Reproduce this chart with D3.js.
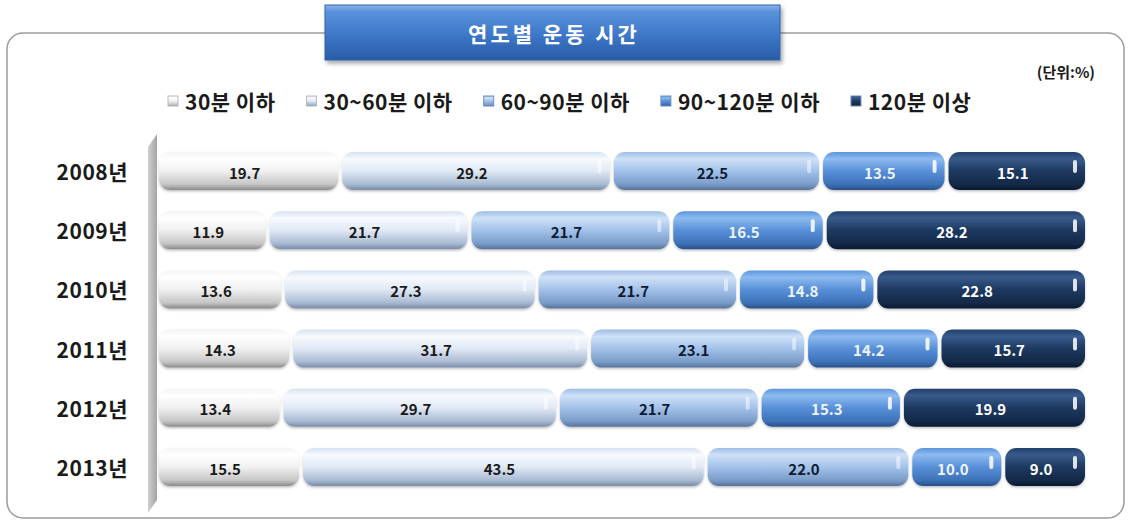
<!DOCTYPE html>
<html>
<head>
<meta charset="utf-8">
<script src="https://cdn.jsdelivr.net/npm/d3@7"></script>
<style>
  body { margin: 0; background: #fff; }
  text { font-family: "Noto Sans CJK KR", "Noto Sans", sans-serif; }
</style>
</head>
<body>
<div id="chart"></div>
<script>
// chart data
var years = ["2008년", "2009년", "2010년", "2011년", "2012년", "2013년"];
var seriesNames = ["30분 이하", "30~60분 이하", "60~90분 이하", "90~120분 이하", "120분 이상"];
var s30 = [19.7, 11.9, 13.6, 14.3, 13.4, 15.5];
var s60 = [29.2, 21.7, 27.3, 31.7, 29.7, 43.5];
var s90 = [22.5, 21.7, 21.7, 23.1, 21.7, 22.0];
var s120 = [13.5, 16.5, 14.8, 14.2, 15.3, 10.0];
var sOver = [15.1, 28.2, 22.8, 15.7, 19.9, 9.0];
var title = "연도별 운동 시간";
var unitLabel = "(단위:%)";

var allSeries = [s30, s60, s90, s120, sOver];

// colour sets per series
var colors = [
    { top: "#f4f4f4", hi: "#ffffff", mid: "#f0f0f0", low: "#c6c6c6", bot: "#8a8a8a", text: "#1a1a1a" },
    { top: "#d6e2f1", hi: "#f7fafe", mid: "#e0e9f5", low: "#a8bad2", bot: "#7a8ca6", text: "#1a1a1a" },
    { top: "#9dbde6", hi: "#cfe1f7", mid: "#a3c2ea", low: "#7a9cc8", bot: "#56729a", text: "#0f1c33" },
    { top: "#5b95dc", hi: "#8dbbf0", mid: "#5890d8", low: "#3d72b8", bot: "#2a5088", text: "#eef4fc" },
    { top: "#22406a", hi: "#385b8b", mid: "#1d3960", low: "#142948", bot: "#0b1a32", text: "#ffffff" }
];

var W = 1131, H = 524;
var svg = d3.select("#chart").append("svg")
    .attr("width", W)
    .attr("height", H);

var defs = svg.append("defs");

// vertical gradients for the glossy bars
colors.forEach(function(c, i) {
    var g = defs.append("linearGradient")
        .attr("id", "grad" + i)
        .attr("x1", 0).attr("y1", 0).attr("x2", 0).attr("y2", 1);
    g.append("stop").attr("offset", "0%").attr("stop-color", c.top);
    g.append("stop").attr("offset", "18%").attr("stop-color", c.hi);
    g.append("stop").attr("offset", "50%").attr("stop-color", c.mid);
    g.append("stop").attr("offset", "85%").attr("stop-color", c.low);
    g.append("stop").attr("offset", "100%").attr("stop-color", c.bot);
});

// title box gradient
var tg = defs.append("linearGradient").attr("id", "titleGrad")
    .attr("x1", 0).attr("y1", 0).attr("x2", 0).attr("y2", 1);
tg.append("stop").attr("offset", "0%").attr("stop-color", "#8cb6ea");
tg.append("stop").attr("offset", "12%").attr("stop-color", "#5a92db");
tg.append("stop").attr("offset", "60%").attr("stop-color", "#3a74c4");
tg.append("stop").attr("offset", "100%").attr("stop-color", "#2a5ca6");

// wall gradient
var wg = defs.append("linearGradient").attr("id", "wallGrad")
    .attr("x1", 0).attr("y1", 0).attr("x2", 1).attr("y2", 0);
wg.append("stop").attr("offset", "0%").attr("stop-color", "#d0d0d0");
wg.append("stop").attr("offset", "100%").attr("stop-color", "#a4a4a4");

var shadow = defs.append("filter").attr("id", "shadow")
    .attr("x", "-5%").attr("y", "-20%").attr("width", "115%").attr("height", "160%");
shadow.append("feDropShadow")
    .attr("dx", 2).attr("dy", 3).attr("stdDeviation", 2)
    .attr("flood-color", "#000").attr("flood-opacity", 0.35);

var barShadow = defs.append("filter").attr("id", "barShadow")
    .attr("x", "-5%").attr("y", "-20%").attr("width", "110%").attr("height", "150%");
barShadow.append("feDropShadow")
    .attr("dx", 0).attr("dy", 1.5).attr("stdDeviation", 1.2)
    .attr("flood-color", "#000").attr("flood-opacity", 0.25);

// outer rounded frame
svg.append("rect")
    .attr("x", 7).attr("y", 33)
    .attr("width", 1117).attr("height", 485)
    .attr("rx", 16).attr("ry", 16)
    .attr("fill", "#fff")
    .attr("stroke", "#9c9c9c")
    .attr("stroke-width", 1.5);

// title box
svg.append("rect")
    .attr("x", 325).attr("y", 5)
    .attr("width", 455).attr("height", 55)
    .attr("fill", "url(#titleGrad)")
    .attr("stroke", "#2f63ad")
    .attr("stroke-width", 1)
    .attr("filter", "url(#shadow)");

svg.append("text")
    .attr("x", 554).attr("y", 33)
    .attr("text-anchor", "middle")
    .attr("dominant-baseline", "central")
    .attr("fill", "#ffffff")
    .attr("font-size", "21px")
    .attr("font-weight", "bold")
    .attr("letter-spacing", "3px")
    .text(title);

// unit label
svg.append("text")
    .attr("x", 1095).attr("y", 71)
    .attr("text-anchor", "end")
    .attr("dominant-baseline", "central")
    .attr("fill", "#1a1a1a")
    .attr("font-size", "15px")
    .attr("font-weight", "bold")
    .text(unitLabel);

// scales (100% stacked)
var x = d3.scaleLinear().domain([0, 1]).range([157, 1087]);
var y = d3.scalePoint().domain(years).range([141.4, 496.6]).padding(0.5);
var barH = 38;

// legend
var legend = svg.append("g").attr("class", "legend");
var lx = 168;
seriesNames.forEach(function(name, i) {
    var item = legend.append("g").attr("transform", "translate(" + lx + ",101)");
    item.append("rect")
        .attr("x", 0).attr("y", -5)
        .attr("width", 10).attr("height", 10)
        .attr("fill", "url(#grad" + i + ")")
        .attr("stroke", i < 2 ? "#bbbbbb" : "#6f8fb8")
        .attr("stroke-width", 1);
    var t = item.append("text")
        .attr("x", 17).attr("y", 0)
        .attr("dominant-baseline", "central")
        .attr("font-size", "21px")
        .attr("font-weight", "bold")
        .attr("letter-spacing", "0.5px")
        .attr("fill", "#1a1a1a")
        .text(name);
    lx += 17 + t.node().getComputedTextLength() + 31;
});

// 3D side wall of category axis
svg.append("path")
    .attr("d", "M148,147 L157,134 L157,500 L148,513 Z")
    .attr("fill", "url(#wallGrad)");

// year labels
svg.selectAll("text.year")
    .data(years)
    .enter()
    .append("text")
    .attr("class", "year")
    .attr("x", 128)
    .attr("y", function(d) { return y(d); })
    .attr("text-anchor", "end")
    .attr("dominant-baseline", "central")
    .attr("font-size", "21px")
    .attr("font-weight", "bold")
    .attr("letter-spacing", "0.5px")
    .attr("fill", "#1a1a1a")
    .text(function(d) { return d; });

// build stacked segments, normalised to the row total
var segments = [];
years.forEach(function(yr, r) {
    var total = d3.sum(allSeries, function(s) { return s[r]; });
    var cum = 0;
    allSeries.forEach(function(s, i) {
        segments.push({ year: yr, series: i, v: s[r], x0: cum / total, x1: (cum + s[r]) / total });
        cum += s[r];
    });
});

var gap = 2;
var seg = svg.selectAll("g.seg")
    .data(segments)
    .enter()
    .append("g")
    .attr("class", "seg");

seg.append("rect")
    .attr("x", function(d) { return x(d.x0) + gap; })
    .attr("y", function(d) { return y(d.year) - barH / 2; })
    .attr("width", function(d) { return x(d.x1) - x(d.x0) - gap * 2; })
    .attr("height", barH)
    .attr("rx", 11).attr("ry", 11)
    .attr("fill", function(d) { return "url(#grad" + d.series + ")"; })
    .attr("filter", "url(#barShadow)");

// small glossy highlight near right end
seg.filter(function(d) { return d.series > 0; })
    .append("rect")
    .attr("x", function(d) { return x(d.x1) - gap - 12; })
    .attr("y", function(d) { return y(d.year) - barH / 2 + 8; })
    .attr("width", 4)
    .attr("height", 13)
    .attr("rx", 2)
    .attr("fill", "#ffffff")
    .attr("opacity", function(d) { return d.series >= 3 ? 0.85 : 0.5; });

seg.append("text")
    .attr("x", function(d) { return (x(d.x0) + x(d.x1)) / 2 - 4; })
    .attr("y", function(d) { return y(d.year) + 1; })
    .attr("text-anchor", "middle")
    .attr("dominant-baseline", "central")
    .attr("font-family", "'DejaVu Sans', sans-serif")
    .attr("font-size", "15px")
    .attr("font-weight", "bold")
    .attr("fill", function(d) { return colors[d.series].text; })
    .text(function(d) { return d.v.toFixed(1); });
</script>
</body>
</html>
